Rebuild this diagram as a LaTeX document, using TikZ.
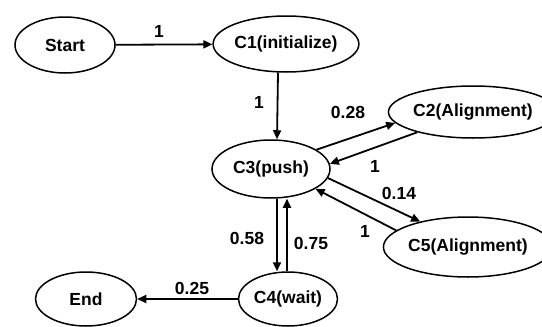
\documentclass[tikz,border=0pt]{standalone}
\usepackage{fontspec}
\setmainfont{Liberation Sans}
\usetikzlibrary{shapes.geometric,arrows.meta}
\begin{document}
\begin{tikzpicture}[x=1pt,y=-1pt,
  state/.style={ellipse,draw=black,line width=1.5pt,inner sep=0pt,
    font=\fontsize{17.5}{20}\selectfont\bfseries},
  conn/.style={line width=1.8pt,-{Triangle[length=9pt,width=8pt]}},
  lbl/.style={font=\fontsize{17.5}{20}\selectfont\bfseries,inner sep=0pt}]
\useasboundingbox (0,0) rectangle (542,327);
\node[state,minimum width=100pt,minimum height=56pt] (start) at (65,45) {Start};
\node[state,minimum width=127pt,minimum height=56pt] (c1) at (286,44) {C1(initialize)};
\node[state,minimum width=131pt,minimum height=52pt] (c2) at (473,112) {C2(Alignment)};
\node[state,minimum width=118pt,minimum height=58pt] (c3) at (271,169) {C3(push)};
\node[state,minimum width=133pt,minimum height=60pt] (c5) at (468,247) {C5(Alignment)};
\node[state,minimum width=99pt,minimum height=54pt] (c4) at (288,299) {C4(wait)};
\node[state,minimum width=101pt,minimum height=54pt] (end) at (86,299) {End};

\draw[conn] (start) -- (c1);
\draw[conn] ([xshift=-8pt]c1.south) -- ([xshift=6pt]c3.north);
\draw[conn] (c3.23) -- (c2.188);
\draw[conn] (c2.200) -- (c3.5);
\draw[conn] (c3.-9) -- (c5.152);
\draw[conn] (c5.167) -- (c3.336);
\draw[conn] ([xshift=6pt]c3.south) -- ([xshift=-11pt]c4.north);
\draw[conn] ([xshift=-1pt]c4.north) -- ([xshift=16pt]c3.south);
\draw[conn] (c4) -- (end);

\node[lbl] (l1) at (159,31) {1};
\node[lbl] (l2) at (259,102) {1};
\node[lbl] (l3) at (348,112) {0.28};
\node[lbl] (l4) at (375,166) {1};
\node[lbl] (l5) at (399,193) {0.14};
\node[lbl] (l6) at (365,231) {1};
\node[lbl] (l7) at (247,238) {0.58};
\node[lbl] (l8) at (311,243) {0.75};
\node[lbl] (l9) at (192,288) {0.25};
\end{tikzpicture}
\end{document}
